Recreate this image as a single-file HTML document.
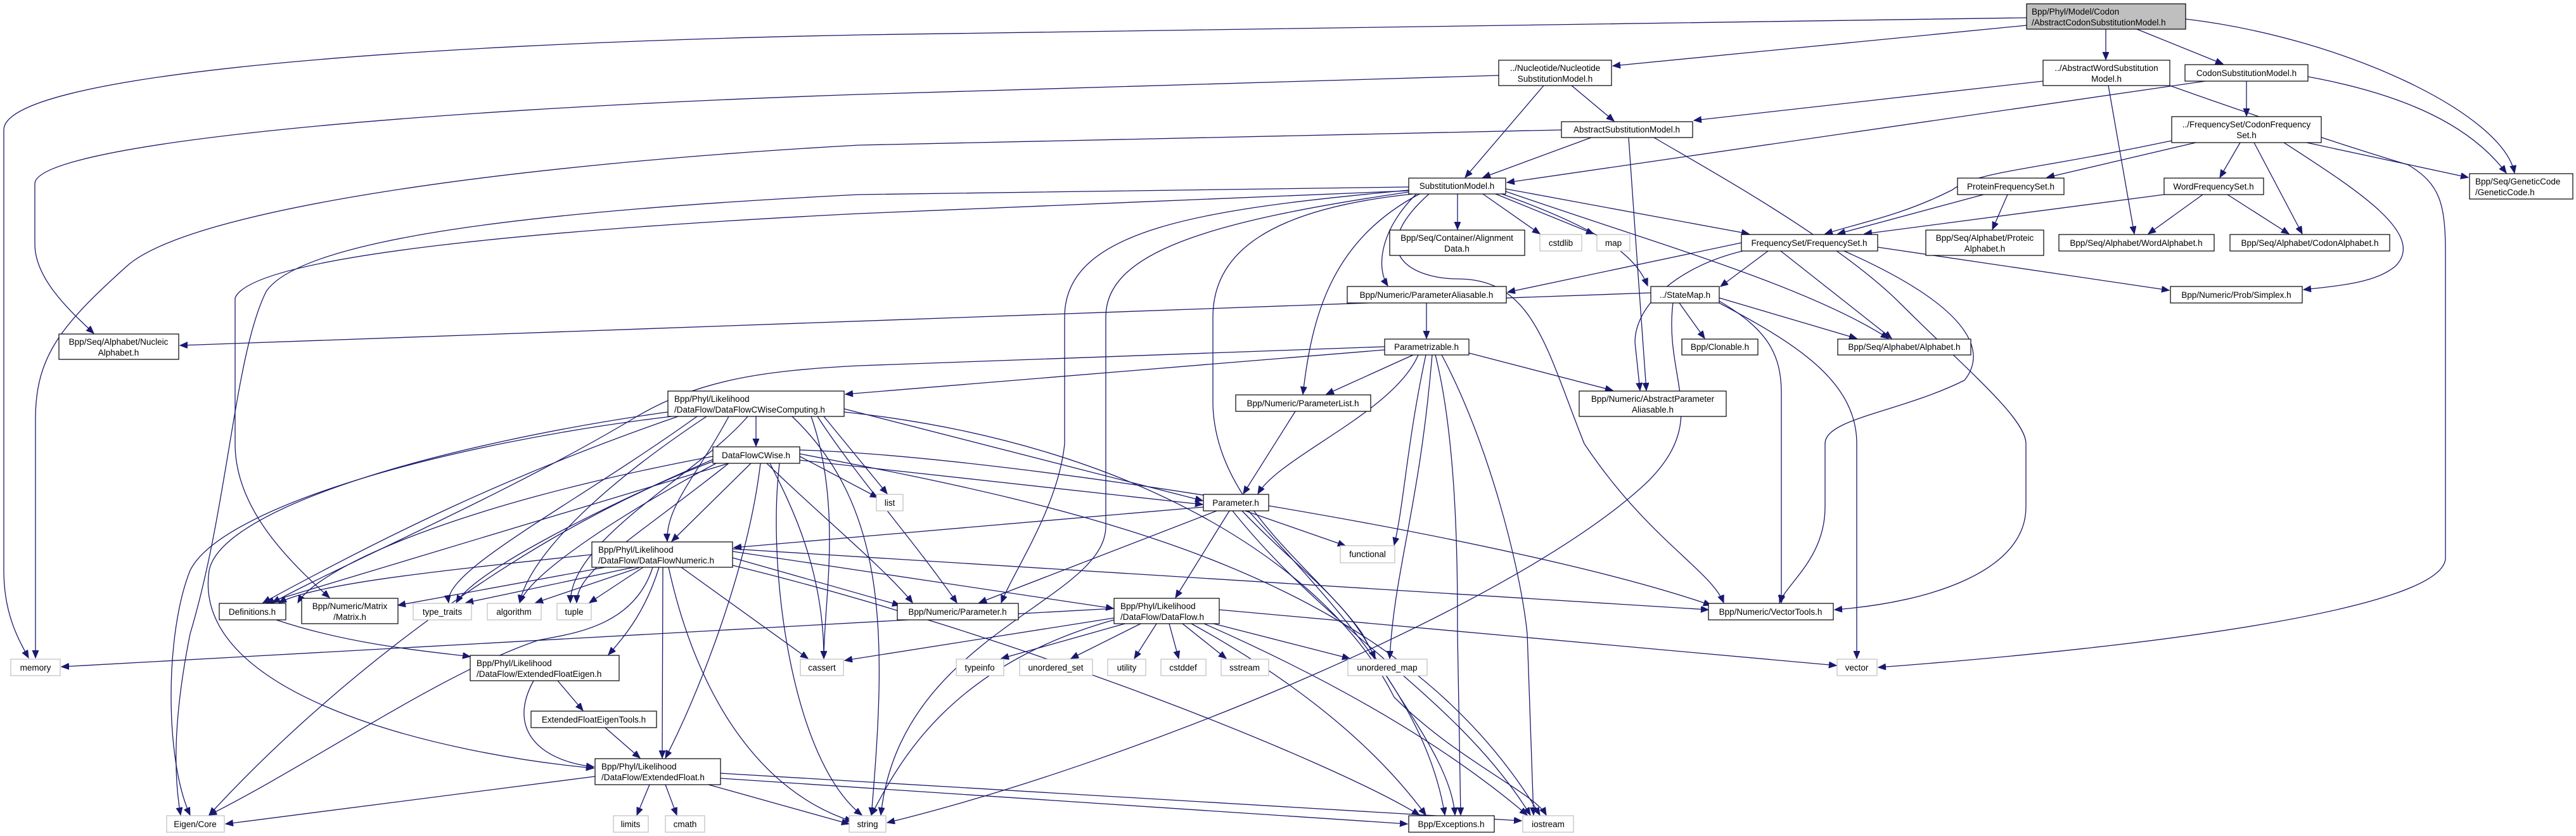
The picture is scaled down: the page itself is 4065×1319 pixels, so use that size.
<!DOCTYPE html>
<html><head><meta charset="utf-8"><style>
html,body{margin:0;padding:0;background:#fff;}
svg{display:block;}
text{font-family:"Liberation Sans",sans-serif;font-size:13.5px;fill:#000;}
.e{fill:none;stroke:#191970;stroke-width:1.3;marker-end:url(#a);}
.n{fill:#fff;stroke:#000;stroke-width:1.2;}
.g{fill:#fff;stroke:#bfbfbf;stroke-width:1.2;}
</style></head><body>
<svg width="4065" height="1319" viewBox="0 0 4065 1319" xmlns="http://www.w3.org/2000/svg">
<defs><marker id="a" markerUnits="userSpaceOnUse" markerWidth="14" markerHeight="12" refX="12" refY="5" orient="auto"><path d="M0,0 L12,5 L0,10 Z" fill="#191970" stroke="#191970"/></marker></defs>
<g>
<path class="e" d="M3198,28 L1360,55 C600,70 6,120 6,205 L6,900 C6,970 30,1010 45,1038"/>
<path class="e" d="M3198,40 L2545,104"/>
<path class="e" d="M3323,46 L3323,94"/>
<path class="e" d="M3372,46 L3508,101"/>
<path class="e" d="M3449,30 C3700,60 3950,180 3968,273"/>
<path class="e" d="M2365,119 L1355,149 C600,175 55,230 55,290 L55,385 C55,440 110,490 148,526"/>
<path class="e" d="M2436,135 L2312,280"/>
<path class="e" d="M2480,135 L2547,191"/>
<path class="e" d="M2464,205 L1355,229 C800,260 300,330 200,420 C100,510 56,560 56,660 L56,1038"/>
<path class="e" d="M2511,217 L2340,280"/>
<path class="e" d="M2570,217 C2575,300 2590,500 2598,616"/>
<path class="e" d="M2610,217 C2700,270 2900,380 3000,480 C3100,580 3197,660 3197,700 L3197,800 C3197,900 3050,950 2895,962"/>
<path class="e" d="M3224,128 L2673,190"/>
<path class="e" d="M3327,135 L3368,369"/>
<path class="e" d="M3424,135 C3550,180 3700,230 3800,260 C3850,290 3859,320 3859,400 L3859,880 C3859,960 3400,1020 2964,1053"/>
<path class="e" d="M3480,128 L2378,288"/>
<path class="e" d="M3545,128 L3545,183"/>
<path class="e" d="M3642,121 C3800,150 3900,200 3955,273"/>
<path class="e" d="M3427,222 C3200,270 3120,270 3080,300 C3000,340 2940,350 2880,369"/>
<path class="e" d="M3465,225 L3230,280"/>
<path class="e" d="M3535,225 L3503,280"/>
<path class="e" d="M3557,225 L3633,369"/>
<path class="e" d="M3604,225 C3720,300 3830,370 3780,420 C3750,445 3700,450 3635,457"/>
<path class="e" d="M3640,225 L3895,280"/>
<path class="e" d="M3130,307 L2900,369"/>
<path class="e" d="M3168,307 L3144,362"/>
<path class="e" d="M3415,307 L2942,369"/>
<path class="e" d="M3476,307 L3390,369"/>
<path class="e" d="M3515,307 L3612,369"/>
<path class="e" d="M2300,306 L2300,362"/>
<path class="e" d="M2340,306 L2430,369"/>
<path class="e" d="M2360,306 L2515,369"/>
<path class="e" d="M2376,298 L2760,369"/>
<path class="e" d="M2376,302 C2600,380 2850,450 2980,534"/>
<path class="e" d="M2370,306 C2520,360 2580,400 2600,451"/>
<path class="e" d="M2235,306 C2180,360 2170,420 2190,451"/>
<path class="e" d="M2240,306 C2100,380 2070,500 2056,622"/>
<path class="e" d="M2223,295 L1355,307 C900,330 480,370 420,460 C370,560 360,800 300,1000 C280,1100 270,1200 285,1286"/>
<path class="e" d="M2223,301 L1355,337 C900,360 400,400 371,470 L371,700 C371,800 450,880 520,943"/>
<path class="e" d="M2223,300 C1900,330 1680,360 1680,500 L1680,700 C1670,800 1600,900 1580,951"/>
<path class="e" d="M2223,303 C1900,350 1745,400 1745,500 L1745,830 C1745,950 1420,1000 1390,1286"/>
<path class="e" d="M2230,306 C2000,330 1914,400 1914,500 L1914,640 C1920,800 2080,900 2150,1000 C2200,1100 2290,1200 2296,1286"/>
<path class="e" d="M2255,306 C2150,400 2230,440 2300,440 C2420,440 2440,550 2500,700 C2600,850 2700,900 2720,951"/>
<path class="e" d="M2748,383 L2379,461"/>
<path class="e" d="M2790,396 L2715,452"/>
<path class="e" d="M2810,396 L2985,534"/>
<path class="e" d="M2910,396 C3100,480 3140,550 3100,600 C3000,650 2880,660 2880,700 L2880,800 C2880,880 2820,920 2808,951"/>
<path class="e" d="M2963,390 L3423,458"/>
<path class="e" d="M2750,396 C2650,420 2580,480 2580,540 L2588,616"/>
<path class="e" d="M2605,462 L284,545"/>
<path class="e" d="M2650,478 L2690,534"/>
<path class="e" d="M2713,470 L2930,534"/>
<path class="e" d="M2713,475 C2790,520 2811,560 2811,620 L2811,951"/>
<path class="e" d="M2713,478 C2830,540 2930,600 2930,700 L2930,1039"/>
<path class="e" d="M2640,478 C2625,600 2700,660 2600,760 C2400,950 1800,1200 1400,1298"/>
<path class="e" d="M2251,478 L2251,534"/>
<path class="e" d="M2185,547 L1355,577 C1200,585 1100,600 1000,660 C800,780 520,900 430,951"/>
<path class="e" d="M2185,552 L1334,622"/>
<path class="e" d="M2230,560 L2093,622"/>
<path class="e" d="M2238,560 C2200,650 2020,720 1985,779"/>
<path class="e" d="M2250,560 C2220,700 2215,800 2200,860"/>
<path class="e" d="M2260,560 C2240,800 2200,900 2193,1039"/>
<path class="e" d="M2265,560 C2300,700 2300,900 2300,1000 L2305,1286"/>
<path class="e" d="M2275,560 C2350,700 2400,900 2410,1000 L2420,1286"/>
<path class="e" d="M2318,557 L2545,616"/>
<path class="e" d="M2044,649 L1962,779"/>
<path class="e" d="M1899,800 L1158,864"/>
<path class="e" d="M1920,806 L1545,951"/>
<path class="e" d="M1940,806 L1855,943"/>
<path class="e" d="M1965,806 L2123,861"/>
<path class="e" d="M1960,806 C2050,900 2130,950 2170,1039"/>
<path class="e" d="M1970,806 C2100,950 2250,1100 2280,1286"/>
<path class="e" d="M1945,806 C2100,1000 2300,1100 2415,1286"/>
<path class="e" d="M1193,657 L1193,704"/>
<path class="e" d="M1332,645 L1898,790"/>
<path class="e" d="M1300,657 L1400,779"/>
<path class="e" d="M1150,657 C1100,750 1050,800 1053,854"/>
<path class="e" d="M1070,657 C800,750 600,850 415,951"/>
<path class="e" d="M1100,657 C900,800 700,900 708,951"/>
<path class="e" d="M1115,657 C900,800 830,900 820,951"/>
<path class="e" d="M1180,657 C1100,750 900,850 900,951"/>
<path class="e" d="M1290,657 C1350,750 1440,850 1510,951"/>
<path class="e" d="M1060,657 C700,700 350,800 300,900 C260,1000 260,1200 300,1286"/>
<path class="e" d="M1054,650 C700,700 350,800 330,900 C300,1100 700,1190 937,1212"/>
<path class="e" d="M1280,657 C1330,800 1300,950 1300,1039"/>
<path class="e" d="M1250,657 C1400,800 1400,1000 1375,1286"/>
<path class="e" d="M1332,650 C1800,700 2100,900 2200,1100 C2300,1200 2420,1250 2440,1286"/>
<path class="e" d="M1262,720 L1385,785"/>
<path class="e" d="M1185,731 L1060,854"/>
<path class="e" d="M1200,731 C1180,900 1100,1100 1050,1196"/>
<path class="e" d="M1150,731 L420,951"/>
<path class="e" d="M1125,720 C700,800 500,900 470,951"/>
<path class="e" d="M1125,725 C950,800 750,900 720,951"/>
<path class="e" d="M1130,731 C1000,800 840,900 820,951"/>
<path class="e" d="M1150,731 C1000,850 910,900 910,951"/>
<path class="e" d="M1210,731 C1280,800 1400,900 1440,951"/>
<path class="e" d="M1215,731 C1250,800 1300,900 1300,1039"/>
<path class="e" d="M1125,728 C800,850 500,1100 330,1286"/>
<path class="e" d="M1230,731 C1210,900 1250,1200 1360,1286"/>
<path class="e" d="M1262,716 C1700,800 2200,900 2430,1286"/>
<path class="e" d="M1262,710 C1600,720 2400,850 2700,955"/>
<path class="e" d="M1262,726 L1898,796"/>
<path class="e" d="M934,875 C700,900 500,920 440,951"/>
<path class="e" d="M955,895 L628,955"/>
<path class="e" d="M1000,895 L735,951"/>
<path class="e" d="M1010,895 L845,951"/>
<path class="e" d="M1015,895 L930,951"/>
<path class="e" d="M1156,880 L1420,955"/>
<path class="e" d="M1156,870 L1757,960"/>
<path class="e" d="M1156,866 L2696,962"/>
<path class="e" d="M1040,895 C1020,960 990,1000 960,1033"/>
<path class="e" d="M1046,895 L1045,1196"/>
<path class="e" d="M1075,895 L1275,1039"/>
<path class="e" d="M1030,895 C1000,990 900,1000 850,1010 C700,1060 500,1200 330,1286"/>
<path class="e" d="M1055,895 C1100,1100 1200,1250 1345,1296"/>
<path class="e" d="M1156,892 C1600,1000 2100,1200 2240,1286"/>
<path class="e" d="M1758,960 L97,1052"/>
<path class="e" d="M1775,984 L1580,1039"/>
<path class="e" d="M1800,984 L1690,1039"/>
<path class="e" d="M1825,984 L1790,1039"/>
<path class="e" d="M1845,984 L1860,1039"/>
<path class="e" d="M1866,984 L1935,1039"/>
<path class="e" d="M1915,984 L2130,1039"/>
<path class="e" d="M1924,962 L2898,1050"/>
<path class="e" d="M1758,975 L1333,1042"/>
<path class="e" d="M1758,978 C1500,1050 1420,1200 1375,1286"/>
<path class="e" d="M1880,984 C2000,1050 2150,1150 2250,1286"/>
<path class="e" d="M1900,984 C2050,1050 2250,1150 2410,1286"/>
<path class="e" d="M436,978 C560,1020 700,1030 742,1036"/>
<path class="e" d="M842,1074 C800,1150 850,1200 937,1210"/>
<path class="e" d="M880,1074 L920,1121"/>
<path class="e" d="M955,1148 L1010,1196"/>
<path class="e" d="M939,1225 L356,1300"/>
<path class="e" d="M1025,1238 L1005,1286"/>
<path class="e" d="M1050,1238 L1068,1286"/>
<path class="e" d="M1118,1238 L1340,1300"/>
<path class="e" d="M1137,1228 L2221,1300"/>
<path class="e" d="M1137,1220 L2401,1295"/>
</g>
<g>
<rect x="3198" y="6" width="251" height="40" fill="#bfbfbf" stroke="#000" stroke-width="1.2"/>
<text x="3206" y="23">Bpp/Phyl/Model/Codon</text><text x="3206" y="40">/AbstractCodonSubstitutionModel.h</text>

<rect class="n" x="2365" y="95" width="178" height="40"/>
<text x="2454" y="112" text-anchor="middle">../Nucleotide/Nucleotide</text><text x="2454" y="129" text-anchor="middle">SubstitutionModel.h</text>
<rect class="n" x="3224" y="95" width="200" height="40"/>
<text x="3324" y="112" text-anchor="middle">../AbstractWordSubstitution</text><text x="3324" y="129" text-anchor="middle">Model.h</text>
<rect class="n" x="3448" y="102" width="194" height="26"/><text x="3545" y="120" text-anchor="middle">CodonSubstitutionModel.h</text>
<rect class="n" x="2464" y="192" width="207" height="25"/><text x="2567" y="209" text-anchor="middle">AbstractSubstitutionModel.h</text>
<rect class="n" x="3427" y="184" width="236" height="41"/>
<text x="3545" y="201" text-anchor="middle">../FrequencySet/CodonFrequency</text><text x="3545" y="218" text-anchor="middle">Set.h</text>
<rect class="n" x="2223" y="281" width="153" height="25"/><text x="2299" y="298" text-anchor="middle">SubstitutionModel.h</text>
<rect class="n" x="3897" y="274" width="163" height="40"/>
<text x="3906" y="291">Bpp/Seq/GeneticCode</text><text x="3906" y="308">/GeneticCode.h</text>
<rect class="n" x="3089" y="281" width="168" height="26"/><text x="3173" y="299" text-anchor="middle">ProteinFrequencySet.h</text>
<rect class="n" x="3415" y="281" width="157" height="26"/><text x="3493" y="299" text-anchor="middle">WordFrequencySet.h</text>
<rect class="n" x="2193" y="363" width="213" height="40"/>
<text x="2299" y="380" text-anchor="middle">Bpp/Seq/Container/Alignment</text><text x="2299" y="397" text-anchor="middle">Data.h</text>
<rect class="g" x="2430" y="370" width="66" height="26"/><text x="2463" y="388" text-anchor="middle">cstdlib</text>
<rect class="g" x="2520" y="370" width="52" height="26"/><text x="2546" y="388" text-anchor="middle">map</text>
<rect class="n" x="2748" y="370" width="215" height="26"/><text x="2855" y="388" text-anchor="middle">FrequencySet/FrequencySet.h</text>
<rect class="n" x="3039" y="363" width="186" height="40"/>
<text x="3132" y="380" text-anchor="middle">Bpp/Seq/Alphabet/Proteic</text><text x="3132" y="397" text-anchor="middle">Alphabet.h</text>
<rect class="n" x="3249" y="370" width="245" height="26"/><text x="3371" y="388" text-anchor="middle">Bpp/Seq/Alphabet/WordAlphabet.h</text>
<rect class="n" x="3519" y="370" width="252" height="26"/><text x="3645" y="388" text-anchor="middle">Bpp/Seq/Alphabet/CodonAlphabet.h</text>
<rect class="n" x="2126" y="452" width="251" height="26"/><text x="2251" y="470" text-anchor="middle">Bpp/Numeric/ParameterAliasable.h</text>
<rect class="n" x="2605" y="452" width="108" height="26"/><text x="2659" y="470" text-anchor="middle">../StateMap.h</text>
<rect class="n" x="3425" y="452" width="208" height="26"/><text x="3529" y="470" text-anchor="middle">Bpp/Numeric/Prob/Simplex.h</text>
<rect class="n" x="93" y="527" width="189" height="40"/>
<text x="187" y="544" text-anchor="middle">Bpp/Seq/Alphabet/Nucleic</text><text x="187" y="561" text-anchor="middle">Alphabet.h</text>
<rect class="n" x="2185" y="535" width="133" height="25"/><text x="2251" y="552" text-anchor="middle">Parametrizable.h</text>
<rect class="n" x="2654" y="535" width="120" height="25"/><text x="2714" y="552" text-anchor="middle">Bpp/Clonable.h</text>
<rect class="n" x="2900" y="535" width="210" height="25"/><text x="3005" y="552" text-anchor="middle">Bpp/Seq/Alphabet/Alphabet.h</text>
<rect class="n" x="1054" y="617" width="278" height="40"/>
<text x="1064" y="634">Bpp/Phyl/Likelihood</text><text x="1064" y="651">/DataFlow/DataFlowCWiseComputing.h</text>
<rect class="n" x="1950" y="623" width="213" height="26"/><text x="2056" y="641" text-anchor="middle">Bpp/Numeric/ParameterList.h</text>
<rect class="n" x="2492" y="617" width="232" height="40"/>
<text x="2608" y="634" text-anchor="middle">Bpp/Numeric/AbstractParameter</text><text x="2608" y="651" text-anchor="middle">Aliasable.h</text>
<rect class="n" x="1125" y="705" width="137" height="26"/><text x="1193" y="723" text-anchor="middle">DataFlowCWise.h</text>
<rect class="g" x="1383" y="780" width="42" height="26"/><text x="1404" y="798" text-anchor="middle">list</text>
<rect class="n" x="1899" y="780" width="103" height="26"/><text x="1950" y="798" text-anchor="middle">Parameter.h</text>
<rect class="g" x="2115" y="861" width="86" height="27"/><text x="2158" y="879" text-anchor="middle">functional</text>
<rect class="n" x="934" y="855" width="222" height="40"/>
<text x="944" y="872">Bpp/Phyl/Likelihood</text><text x="944" y="889">/DataFlow/DataFlowNumeric.h</text>
<rect class="n" x="346" y="952" width="105" height="26"/><text x="398" y="970" text-anchor="middle">Definitions.h</text>
<rect class="n" x="476" y="944" width="152" height="40"/>
<text x="552" y="961" text-anchor="middle">Bpp/Numeric/Matrix</text><text x="552" y="978" text-anchor="middle">/Matrix.h</text>
<rect class="g" x="652" y="952" width="92" height="26"/><text x="698" y="970" text-anchor="middle">type_traits</text>
<rect class="g" x="769" y="952" width="85" height="26"/><text x="811" y="970" text-anchor="middle">algorithm</text>
<rect class="g" x="879" y="952" width="54" height="26"/><text x="906" y="970" text-anchor="middle">tuple</text>
<rect class="n" x="1416" y="952" width="191" height="26"/><text x="1511" y="970" text-anchor="middle">Bpp/Numeric/Parameter.h</text>
<rect class="n" x="1758" y="944" width="166" height="40"/>
<text x="1768" y="961">Bpp/Phyl/Likelihood</text><text x="1768" y="978">/DataFlow/DataFlow.h</text>
<rect class="n" x="2696" y="952" width="197" height="26"/><text x="2794" y="970" text-anchor="middle">Bpp/Numeric/VectorTools.h</text>
<rect class="g" x="17" y="1040" width="78" height="26"/><text x="56" y="1058" text-anchor="middle">memory</text>
<rect class="n" x="742" y="1034" width="235" height="40"/>
<text x="752" y="1051">Bpp/Phyl/Likelihood</text><text x="752" y="1068">/DataFlow/ExtendedFloatEigen.h</text>
<rect class="g" x="1263" y="1040" width="68" height="26"/><text x="1297" y="1058" text-anchor="middle">cassert</text>
<rect class="g" x="1509" y="1040" width="75" height="26"/><text x="1546" y="1058" text-anchor="middle">typeinfo</text>
<rect class="g" x="1609" y="1040" width="115" height="26"/><text x="1666" y="1058" text-anchor="middle">unordered_set</text>
<rect class="g" x="1748" y="1040" width="60" height="26"/><text x="1778" y="1058" text-anchor="middle">utility</text>
<rect class="g" x="1832" y="1040" width="71" height="26"/><text x="1867" y="1058" text-anchor="middle">cstddef</text>
<rect class="g" x="1927" y="1040" width="75" height="26"/><text x="1964" y="1058" text-anchor="middle">sstream</text>
<rect class="g" x="2127" y="1040" width="125" height="26"/><text x="2189" y="1058" text-anchor="middle">unordered_map</text>
<rect class="g" x="2899" y="1040" width="63" height="26"/><text x="2930" y="1058" text-anchor="middle">vector</text>
<rect class="n" x="838" y="1122" width="198" height="26"/><text x="937" y="1140" text-anchor="middle">ExtendedFloatEigenTools.h</text>
<rect class="n" x="939" y="1197" width="198" height="41"/>
<text x="949" y="1214">Bpp/Phyl/Likelihood</text><text x="949" y="1231">/DataFlow/ExtendedFloat.h</text>
<rect class="g" x="263" y="1287" width="91" height="26"/><text x="308" y="1305" text-anchor="middle">Eigen/Core</text>
<rect class="g" x="968" y="1287" width="55" height="26"/><text x="995" y="1305" text-anchor="middle">limits</text>
<rect class="g" x="1050" y="1287" width="62" height="26"/><text x="1081" y="1305" text-anchor="middle">cmath</text>
<rect class="g" x="1340" y="1287" width="58" height="26"/><text x="1369" y="1305" text-anchor="middle">string</text>
<rect class="n" x="2223" y="1287" width="135" height="26"/><text x="2290" y="1305" text-anchor="middle">Bpp/Exceptions.h</text>
<rect class="g" x="2403" y="1287" width="80" height="26"/><text x="2443" y="1305" text-anchor="middle">iostream</text>
</g>
</svg>
</body></html>
